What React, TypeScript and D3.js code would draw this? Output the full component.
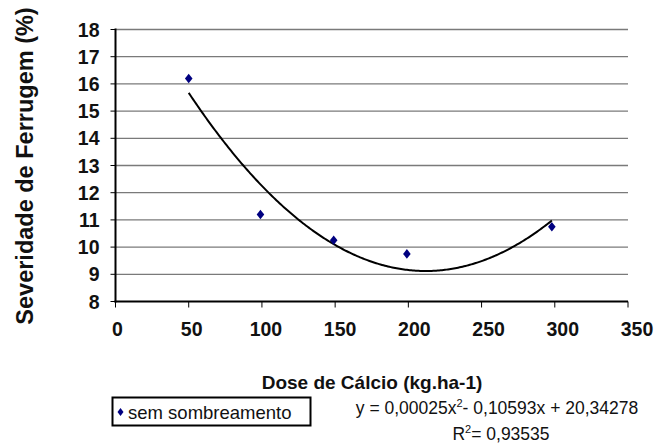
import React from "react";
import * as d3 from "d3";

// dose de cálcio (kg/ha) e severidade observada (%)
const doses = [50, 99, 149, 199, 298];
const severidade = [16.2, 11.2, 10.25, 9.75, 10.75];

// linha de tendência polinomial (Excel): a*x^2 + b*x + c
const trendCoefficients = [0.00025, -0.10593, 20.34278];

const xTicks = [0, 50, 100, 150, 200, 250, 300, 350];
const yTicks = [8, 9, 10, 11, 12, 13, 14, 15, 16, 17, 18];

const legendLabel = "sem sombreamento";
const equationLabel = "y = 0,00025x";
const equationRest = "- 0,10593x + 20,34278";
const r2Label = "= 0,93535";

const font = "'Liberation Sans', Arial, sans-serif";

function App() {
  const width = 668;
  const height = 443;

  const x = d3.scaleLinear().domain([0, 350]).range([115.5, 628]);
  const xLabel = d3.scaleLinear().domain([0, 350]).range([117.5, 637]);
  const y = d3.scaleLinear().domain([8, 18]).range([301.5, 29.5]);

  const points = doses.map((d, i) => ({ x: d, y: severidade[i] }));

  const [a, b, c] = trendCoefficients;
  const trend = d3
    .range(d3.min(doses)!, d3.max(doses)! + 0.5, 1)
    .map((v) => ({ x: v, y: a * v * v + b * v + c }));
  const line = d3
    .line<{ x: number; y: number }>()
    .x((d) => x(d.x))
    .y((d) => y(d.y));

  const diamond = (cx: number, cy: number, w: number, h: number) =>
    `M${cx},${cy - h}L${cx + w},${cy}L${cx},${cy + h}L${cx - w},${cy}Z`;

  return (
    <svg
      width={width}
      height={height}
      style={{ position: "absolute", left: 0, top: 0, background: "#fff" }}
      fontFamily={font}
    >
      {/* grid */}
      {yTicks
        .filter((t) => t > 8)
        .map((t) => (
          <line
            key={"g" + t}
            x1={x(0)}
            x2={x(350)}
            y1={y(t)}
            y2={y(t)}
            stroke="#7a7a7a"
            strokeWidth={1.3}
          />
        ))}

      {/* y axis */}
      <line x1={x(0)} x2={x(0)} y1={y(18) - 1} y2={y(8) + 1} stroke="#000" strokeWidth={2} />
      {yTicks.map((t) => (
        <g key={"y" + t}>
          <line x1={x(0) - 5} x2={x(0)} y1={y(t)} y2={y(t)} stroke="#000" strokeWidth={1} />
          <text
            x={99.5}
            y={y(t)}
            dy="0.36em"
            textAnchor="end"
            fontSize={19.5}
            fontWeight="bold"
            fill="#111"
          >
            {t}
          </text>
        </g>
      ))}

      {/* x axis */}
      <line x1={x(0) - 1} x2={x(350)} y1={y(8)} y2={y(8)} stroke="#000" strokeWidth={2} />
      {xTicks.map((t) => (
        <g key={"x" + t}>
          <line x1={x(t)} x2={x(t)} y1={y(8)} y2={y(8) + 6} stroke="#000" strokeWidth={1} />
          <text
            x={xLabel(t)}
            y={336}
            textAnchor="middle"
            fontSize={19.5}
            fontWeight="bold"
            fill="#111"
          >
            {t}
          </text>
        </g>
      ))}

      {/* trend line */}
      <path d={line(trend) ?? ""} fill="none" stroke="#000" strokeWidth={2} />

      {/* points */}
      {points.map((p, i) => (
        <path key={"p" + i} d={diamond(x(p.x), y(p.y), 3.8, 4.8)} fill="#000080" />
      ))}

      {/* axis titles */}
      <text
        x={372}
        y={389}
        textAnchor="middle"
        fontSize={19}
        fontWeight="bold"
        fill="#111"
      >
        Dose de Cálcio (kg.ha-1)
      </text>
      <text
        transform="translate(33,166) rotate(-90)"
        textAnchor="middle"
        fontSize={23.5}
        fontWeight="bold"
        fill="#111"
      >
        Severidade de Ferrugem (%)
      </text>

      {/* legend */}
      <rect x={112.5} y={397.5} width={198} height={28} fill="#fff" stroke="#000" strokeWidth={2} />
      <path d={diamond(120.5, 412, 3, 4)} fill="#000080" />
      <text x={128} y={418.5} fontSize={18.5} fill="#111">
        {legendLabel}
      </text>

      {/* equation */}
      <text x={497} y={414} textAnchor="middle" fontSize={17.5} fill="#111">
        {equationLabel}
        <tspan dy={-7} fontSize={11}>2</tspan>
        <tspan dy={7}>{equationRest}</tspan>
      </text>
      <text x={501} y={439.5} textAnchor="middle" fontSize={17.5} fill="#111">
        R<tspan dy={-7} fontSize={11}>2</tspan>
        <tspan dy={7}>{r2Label}</tspan>
      </text>
    </svg>
  );
}

export default App;
